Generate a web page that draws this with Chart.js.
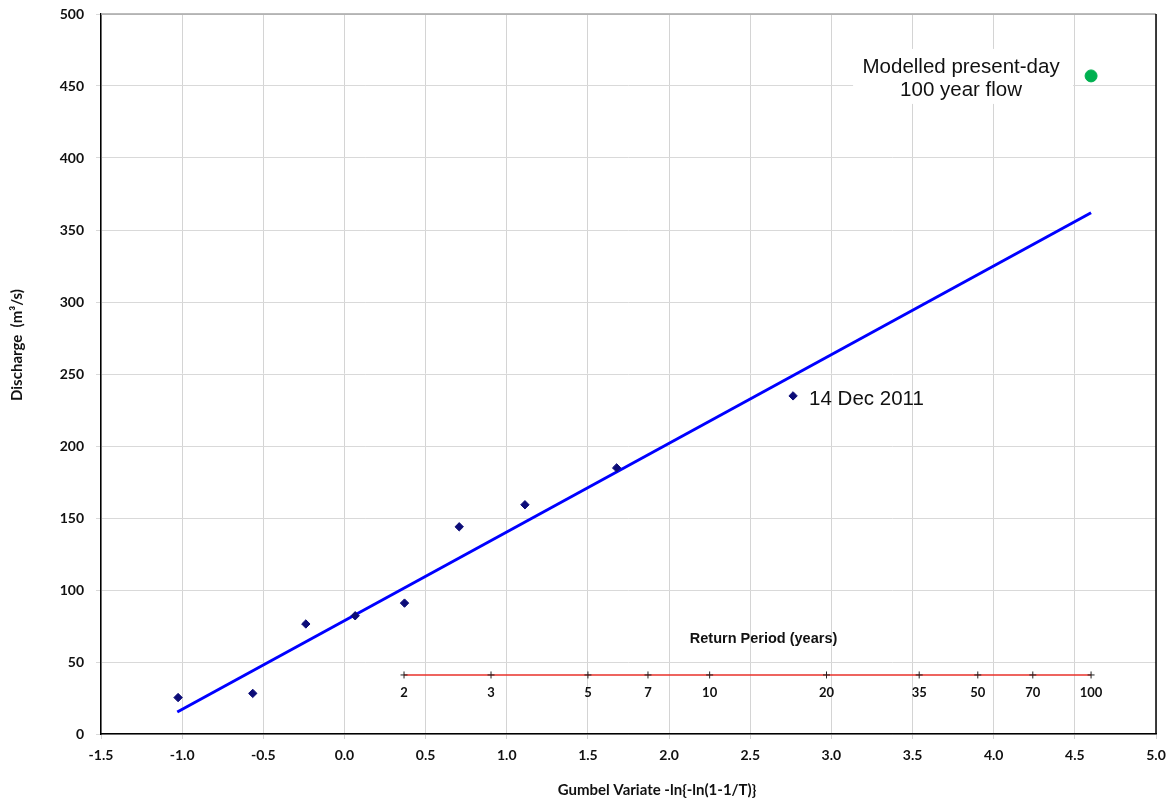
<!DOCTYPE html>
<html>
<head>
<meta charset="utf-8">
<script src="https://cdn.jsdelivr.net/npm/chart.js@4"></script>
<style>
html,body{margin:0;padding:0;background:#fff;}
#wrap{width:1171px;height:802px;position:relative;}
</style>
</head>
<body>
<div id="wrap"><canvas id="c" width="1171" height="802"></canvas></div>
<script>
// ---- data ----
const gumbelX = [-1.025, -0.565, -0.238, 0.066, 0.370, 0.707, 1.112, 1.677, 2.764];
const discharge = [25.3, 28.2, 76.4, 82.1, 90.9, 143.9, 159.2, 184.8, 234.8];
const trendX = [-1.03, 4.60];
const trendY = [15.3, 362.0];
const modelledX = [4.60];
const modelledY = [457];
const returnPeriods = ['2', '3', '5', '7', '10', '20', '35', '50', '70', '100'];
const returnPeriodX = [0.367, 0.903, 1.500, 1.870, 2.250, 2.970, 3.541, 3.902, 4.241, 4.600];
const returnLineY = 41;
const xTicks = [-1.5, -1.0, -0.5, 0.0, 0.5, 1.0, 1.5, 2.0, 2.5, 3.0, 3.5, 4.0, 4.5, 5.0];
const yTicks = [0, 50, 100, 150, 200, 250, 300, 350, 400, 450, 500];
const eventLabel = '14 Dec 2011';
const modelledLabel = ['Modelled present-day', '100 year flow'];
const xTitle = 'Gumbel Variate -ln{-ln(1-1/T)}';
const yTitle = 'Discharge  (m\u00B3/s)';
const rpTitle = 'Return Period (years)';

const tickFont = {family: 'Lato', size: 14, weight: 'bold'};

const toXY = (xs, ys) => xs.map((x, i) => ({x: x, y: ys[i]}));

const overlay = {
  id: 'overlay',
  beforeDatasetsDraw(chart) {
    const {ctx, chartArea: a} = chart;
    ctx.save();
    ctx.strokeStyle = '#a6a6a6';
    ctx.lineWidth = 1.5;
    ctx.beginPath(); ctx.moveTo(a.left, a.top); ctx.lineTo(a.right, a.top); ctx.stroke();
    ctx.strokeStyle = '#000';
    ctx.beginPath(); ctx.moveTo(a.right, a.top); ctx.lineTo(a.right, a.bottom); ctx.stroke();
    const xs = chart.scales.x, ys = chart.scales.y;
    const gx = xs.getPixelForValue(modelledX[0]);
    const gy = ys.getPixelForValue(modelledY[0]);
    ctx.fillStyle = '#fff';
    ctx.fillRect(gx - 238, gy - 27, 220, 55);
    ctx.restore();
  },
  afterDatasetsDraw(chart) {
    const {ctx} = chart;
    const xs = chart.scales.x, ys = chart.scales.y;
    ctx.save();
    ctx.fillStyle = '#111';
    ctx.font = 'bold 13px Lato';
    ctx.textAlign = 'center';
    ctx.textBaseline = 'middle';
    const ly = ys.getPixelForValue(returnLineY);
    returnPeriods.forEach((t, i) => {
      ctx.fillText(t, xs.getPixelForValue(returnPeriodX[i]), ly + 18);
    });
    ctx.font = 'bold 14.5px "Liberation Sans"';
    ctx.fillText(rpTitle, (xs.getPixelForValue(returnPeriodX[0]) + xs.getPixelForValue(returnPeriodX[returnPeriodX.length - 1])) / 2 + 16, ly - 36);
    ctx.font = '20.5px "Liberation Sans"';
    ctx.textAlign = 'left';
    const last = gumbelX.length - 1;
    ctx.fillText(eventLabel, xs.getPixelForValue(gumbelX[last]) + 16, ys.getPixelForValue(discharge[last]) + 3);
    ctx.textAlign = 'center';
    const gx = xs.getPixelForValue(modelledX[0]);
    const gy = ys.getPixelForValue(modelledY[0]);
    ctx.fillText(modelledLabel[0], gx - 130, gy - 9);
    ctx.fillText(modelledLabel[1], gx - 130, gy + 14);
    ctx.font = 'bold 15px Lato';
    ctx.fillText(xTitle, 657, 790);
    ctx.translate(17, 345);
    ctx.rotate(-Math.PI / 2);
    ctx.fillText(yTitle, 0, 0);
    ctx.restore();
  }
};

new Chart(document.getElementById('c'), {
  type: 'scatter',
  data: {
    datasets: [
      {
        label: 'Return period',
        type: 'line',
        data: returnPeriodX.map(x => ({x: x, y: returnLineY})),
        borderColor: '#e8302a',
        borderWidth: 1.5,
        pointStyle: 'cross',
        pointRadius: 3.5,
        pointBorderColor: '#222',
        pointBorderWidth: 1,
        showLine: true,
        order: 4
      },
      {
        label: 'Trend',
        type: 'line',
        data: toXY(trendX, trendY),
        borderColor: '#0000ff',
        borderWidth: 3,
        pointRadius: 0,
        showLine: true,
        order: 3
      },
      {
        label: 'Observed',
        data: toXY(gumbelX, discharge),
        pointStyle: 'rectRot',
        pointRadius: 4.2,
        backgroundColor: '#0c0c78',
        borderColor: '#0c0c78',
        borderWidth: 1,
        order: 1
      },
      {
        label: 'Modelled',
        data: toXY(modelledX, modelledY),
        pointStyle: 'circle',
        pointRadius: 6,
        backgroundColor: '#00b050',
        borderColor: '#00b050',
        order: 2
      }
    ]
  },
  options: {
    responsive: false,
    animation: false,
    events: [],
    layout: {padding: {top: 14, right: 15, left: 0, bottom: 0}},
    plugins: {legend: {display: false}, tooltip: {enabled: false}},
    scales: {
      x: {
        type: 'linear',
        min: -1.5, max: 5.0,
        afterBuildTicks: s => { s.ticks = xTicks.map(v => ({value: v})); },
        afterFit: s => { s.height = 68; s.paddingLeft = 0; s.paddingRight = 0; },
        ticks: {
          color: '#111', font: tickFont, padding: 8, maxRotation: 0,
          callback: v => v.toFixed(1)
        },
        grid: {color: '#d4d4d4', lineWidth: 1, tickLength: 5, drawOnChartArea: true},
        border: {color: '#000', width: 1.5}
      },
      y: {
        type: 'linear',
        min: 0, max: 500,
        afterBuildTicks: s => { s.ticks = yTicks.map(v => ({value: v})); },
        afterFit: s => { s.width = 101; s.paddingTop = 0; s.paddingBottom = 0; },
        ticks: {color: '#111', font: tickFont, padding: 12},
        grid: {color: '#d9d9d9', lineWidth: 1, tickLength: 5},
        border: {color: '#000', width: 1.5}
      }
    }
  },
  plugins: [overlay]
});
</script>
</body>
</html>
